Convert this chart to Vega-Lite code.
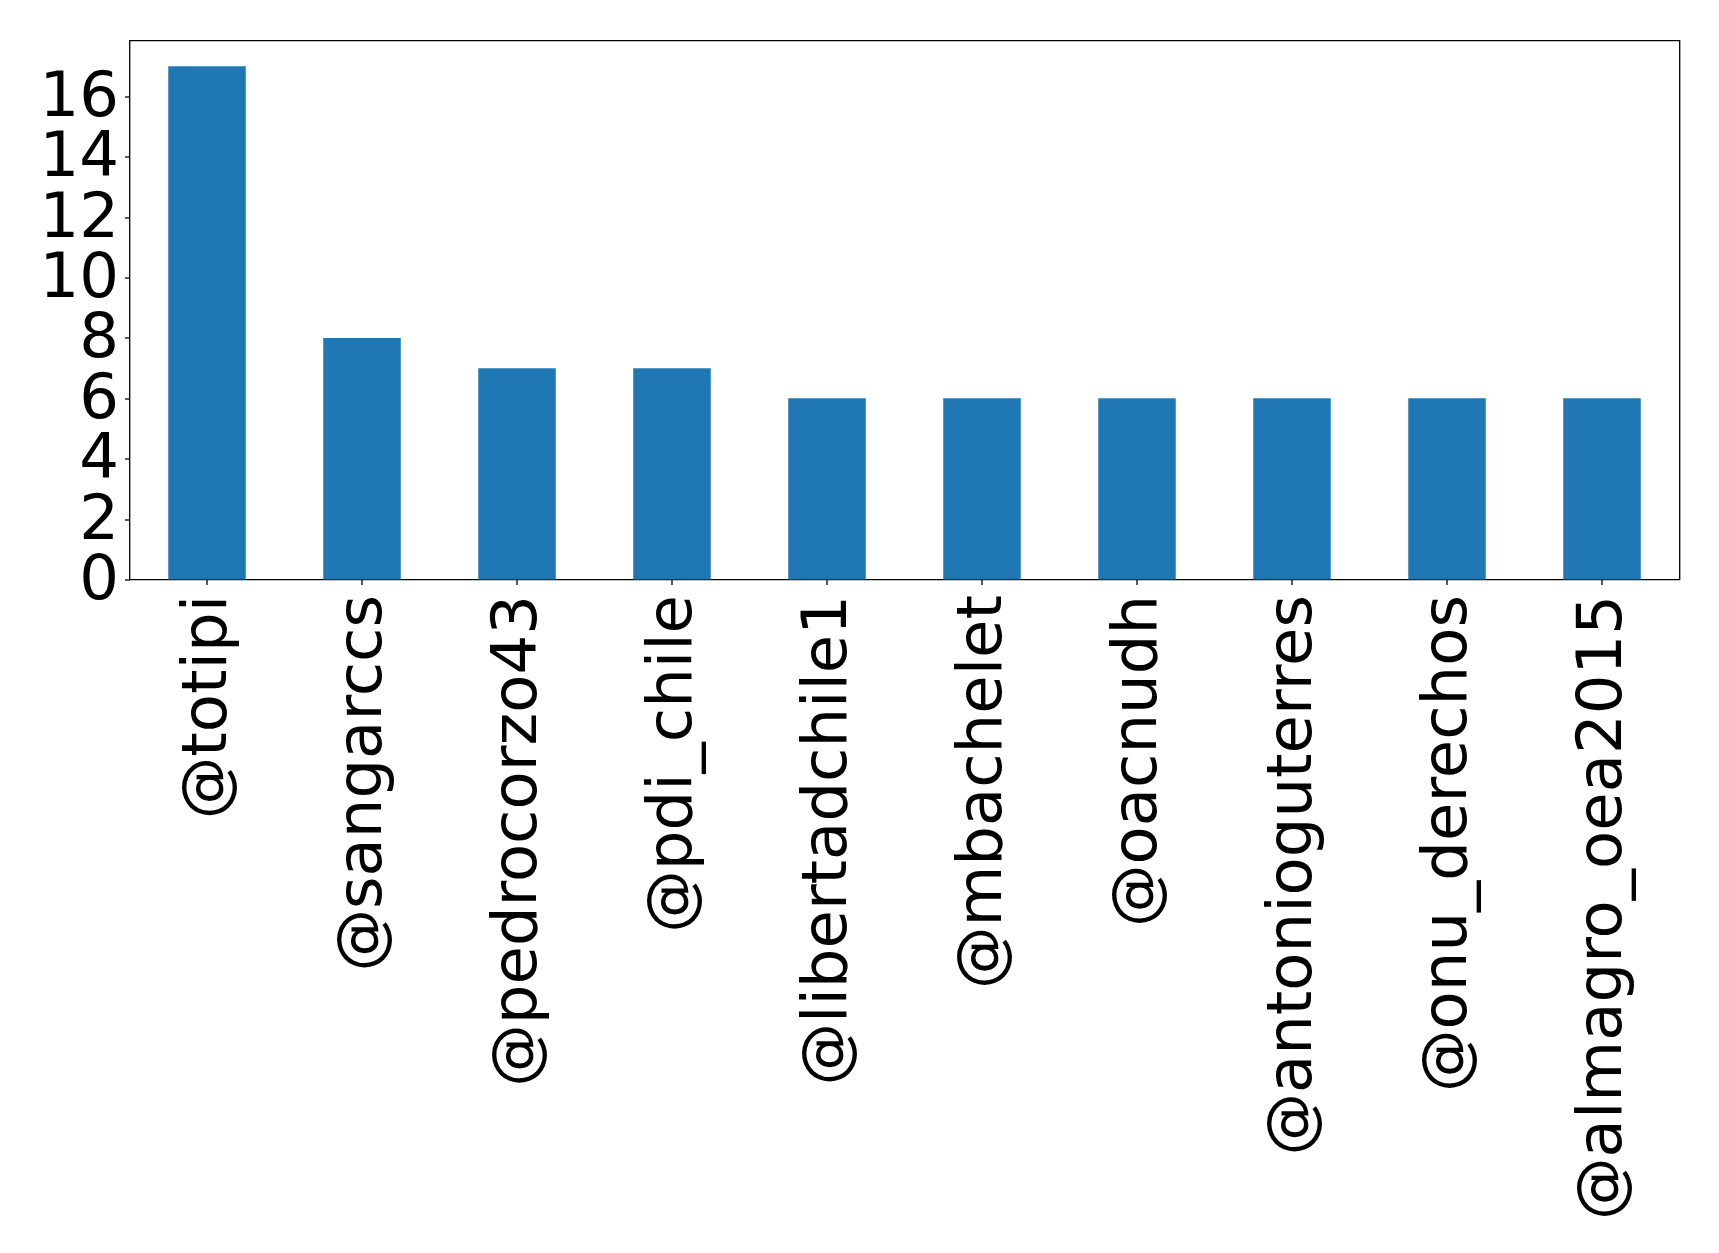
{
  "$schema": "https://vega.github.io/schema/vega-lite/v6.json",
  "autosize": {"type": "none"},
  "width": 1550,
  "height": 539,
  "padding": {"left": 129.5, "top": 40.5, "right": 39.5, "bottom": 673.5},
  "background": "white",
  "config": {
    "view": {"stroke": "black", "strokeWidth": 1.3},
    "axis": {
      "labelFont": "DejaVu Sans",
      "labelFontSize": 62.5,
      "labelColor": "black",
      "labelLimit": 0,
      "labelOverlap": false,
      "domain": false,
      "grid": false,
      "ticks": true,
      "tickColor": "black",
      "tickSize": 5,
      "tickWidth": 1.3,
      "title": null
    }
  },
  "data": {
    "values": [
      {"user": "@totipi", "count": 17},
      {"user": "@sangarccs", "count": 8},
      {"user": "@pedrocorzo43", "count": 7},
      {"user": "@pdi_chile", "count": 7},
      {"user": "@libertadchile1", "count": 6},
      {"user": "@mbachelet", "count": 6},
      {"user": "@oacnudh", "count": 6},
      {"user": "@antonioguterres", "count": 6},
      {"user": "@onu_derechos", "count": 6},
      {"user": "@almagro_oea2015", "count": 6}
    ]
  },
  "mark": {"type": "bar", "color": "#1f77b4"},
  "encoding": {
    "x": {
      "field": "user",
      "type": "nominal",
      "sort": null,
      "scale": {"paddingInner": 0.5, "paddingOuter": 0.25},
      "axis": {"labelAngle": -90, "labelAlign": "right", "labelBaseline": "middle", "labelPadding": 10}
    },
    "y": {
      "field": "count",
      "type": "quantitative",
      "scale": {"domain": [0, 17.85], "nice": false},
      "axis": {"values": [0, 2, 4, 6, 8, 10, 12, 14, 16], "labelPadding": 6}
    }
  }
}
